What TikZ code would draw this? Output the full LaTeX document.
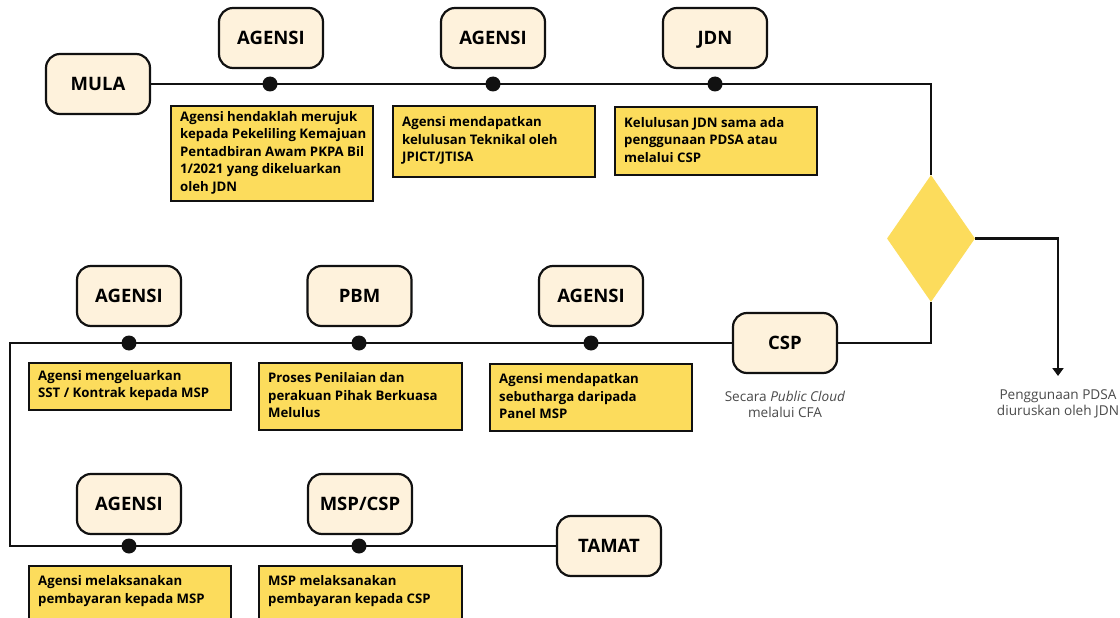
\documentclass[tikz,border=0pt]{standalone}
\usepackage{fontspec}
\setmainfont{Open Sans}
\usetikzlibrary{shapes.geometric,arrows.meta}
\definecolor{cream}{HTML}{FEF2DC}
\definecolor{ylw}{HTML}{FCDC5C}
\definecolor{ink}{HTML}{111111}
\definecolor{greytext}{HTML}{4A4A4A}
\begin{document}
\begin{tikzpicture}[x=1pt,y=-1pt,
  actor/.style={draw=ink,line width=2.2pt,fill=cream,rounded corners=14pt,
    minimum width=104pt,minimum height=60pt,inner sep=0pt,
    text height=13.5pt,text depth=0pt,
    font=\fontsize{18.5}{20}\selectfont\bfseries},
  note/.style={draw=ink,line width=2pt,fill=ylw,anchor=north west,
    minimum width=202pt,inner sep=0pt},
  notetext/.style={anchor=west,inner sep=0pt,align=left,
    font=\fontsize{13.2}{17.5}\selectfont\bfseries},
  dot/.style={circle,fill=ink,minimum size=15pt,inner sep=0pt},
  conn/.style={draw=ink,line width=2.2pt},
  remark/.style={align=center,text=greytext,font=\fontsize{13.6}{16}\selectfont},
  choice/.style={diamond,fill=ylw,minimum width=88pt,minimum height=127pt,inner sep=0pt}
]
\useasboundingbox (0,0) rectangle (1120,618);
\fill[white] (0,0) rectangle (1120,618);

% ---------- top row ----------
\node[actor] (mula) at (98,84) {MULA};
\node[choice] (dia) at (931,238.5) {};
\coordinate (ctr) at (931,84);
\draw[conn] (mula.east) -- (ctr) -- (dia.north);

\node[dot] (d1) at (270,84) {};
\node[dot] (d2) at (493,84) {};
\node[dot] (d3) at (715,84) {};
\node[actor] (a1) at (271,38) {AGENSI};
\node[actor] (a2) at (493,38) {AGENSI};
\node[actor] (a3) at (715,38) {JDN};

\node[note,minimum height=95pt] (n1) at (170,105) {};
\node[note,minimum height=71pt] (n2) at (392,105) {};
\node[note,minimum height=68pt] (n3) at (614,106) {};
\node[notetext] (t1) at ([xshift=10pt,yshift=1pt]n1.west) {Agensi hendaklah merujuk\\kepada Pekeliling Kemajuan\\Pentadbiran Awam PKPA Bil\\1/2021 yang dikeluarkan\\oleh JDN};
\node[notetext] (t2) at ([xshift=10pt,yshift=1pt]n2.west) {Agensi mendapatkan\\kelulusan Teknikal oleh\\JPICT/JTISA};
\node[notetext] (t3) at ([xshift=10pt,yshift=1pt]n3.west) {Kelulusan JDN sama ada\\penggunaan PDSA atau\\melalui CSP};

% ---------- decision ----------
\coordinate (pd) at (1058,376);
\draw[conn,-{Triangle[width=11pt,length=8pt]}] (dia.east) -| (pd);
\node[remark] (pdsa) at (1058,404) {Penggunaan PDSA\\diuruskan oleh JDN};

\node[actor] (csp) at (785,343) {CSP};
\draw[conn] (dia.south) |- (csp.east);
\node[remark] (cfa) at (785,404) {Secara \textit{Public Cloud}\\melalui CFA};

% ---------- middle row ----------
\node[actor] (tamat) at (609,546) {TAMAT};
\coordinate (c1) at (10,343);
\coordinate (c2) at (10,546);
\draw[conn] (csp.west) -- (c1) -- (c2) -- (tamat.west);

\node[dot] (m1) at (129,343) {};
\node[dot] (m2) at (359,343) {};
\node[dot] (m3) at (591,343) {};
\node[actor] (b1) at (129,296) {AGENSI};
\node[actor] (b2) at (359.5,296) {PBM};
\node[actor] (b3) at (591,296) {AGENSI};

\node[note,minimum height=47pt] (na) at (28,362) {};
\node[note,minimum height=67pt,minimum width=203pt] (nb) at (258,362) {};
\node[note,minimum height=67pt] (nc) at (489,363) {};
\node[notetext] (ta) at ([xshift=10pt,yshift=1pt]na.west) {Agensi mengeluarkan\\SST / Kontrak kepada MSP};
\node[notetext] (tb) at ([xshift=10pt,yshift=1pt]nb.west) {Proses Penilaian dan\\perakuan Pihak Berkuasa\\Melulus};
\node[notetext] (tc) at ([xshift=10pt,yshift=1pt]nc.west) {Agensi mendapatkan\\sebutharga daripada\\Panel MSP};

% ---------- bottom row ----------
\node[dot] (e1) at (129,546) {};
\node[dot] (e2) at (359,546) {};
\node[actor] (f1) at (129,504) {AGENSI};
\node[actor] (f2) at (360,504) {MSP/CSP};

\node[note,minimum height=70pt] (ne) at (28,565) {};
\node[note,minimum height=70pt,minimum width=203pt] (nf) at (258,565) {};
\node[notetext,anchor=base west] (te) at (38,603) {Agensi melaksanakan\\pembayaran kepada MSP};
\node[notetext,anchor=base west] (tf) at (268,603) {MSP melaksanakan\\pembayaran kepada CSP};
\end{tikzpicture}
\end{document}
